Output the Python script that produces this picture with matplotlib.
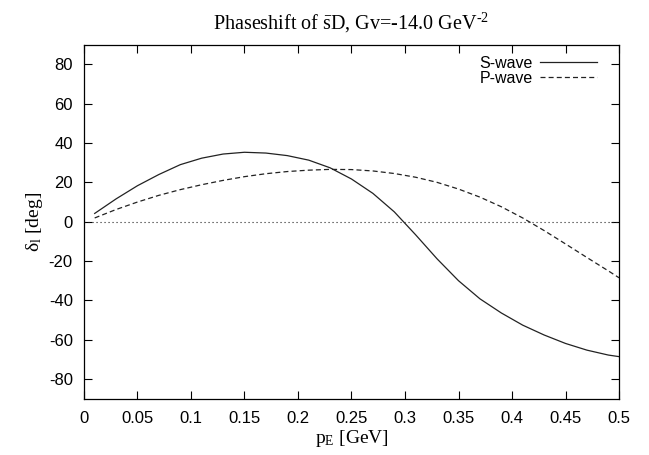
import matplotlib
matplotlib.use('Agg')
import matplotlib.pyplot as plt

p_e = [0.01, 0.03, 0.05, 0.07, 0.09, 0.11, 0.13, 0.15, 0.17, 0.19, 0.21, 0.23, 0.25,
       0.27, 0.29, 0.31, 0.33, 0.35, 0.37, 0.39, 0.41, 0.43, 0.45, 0.47, 0.49, 0.50]
s_wave = [4.2, 11.6, 18.3, 24.0, 29.0, 32.3, 34.4, 35.3, 34.9, 33.6, 31.3, 27.4, 21.7,
          14.4, 5.0, -6.7, -18.9, -30.0, -39.2, -46.4, -52.6, -57.6, -61.9, -65.3, -67.8, -68.6]
p_wave = [1.9, 6.2, 10.0, 13.4, 16.3, 18.8, 21.0, 22.9, 24.4, 25.5, 26.2, 26.6, 26.5,
          25.8, 24.5, 22.6, 20.0, 16.6, 12.5, 7.6, 1.9, -4.5, -11.3, -18.2, -25.0, -28.5]

x_ticks = [0, 0.05, 0.1, 0.15, 0.2, 0.25, 0.3, 0.35, 0.4, 0.45, 0.5]
x_labels = ['0', '0.05', '0.1', '0.15', '0.2', '0.25', '0.3', '0.35', '0.4', '0.45', '0.5']
y_ticks = [-80, -60, -40, -20, 0, 20, 40, 60, 80]

plt.rcParams['font.family'] = ['Liberation Sans', 'DejaVu Sans']
plt.rcParams['axes.unicode_minus'] = False
plt.rcParams['mathtext.fontset'] = 'custom'
plt.rcParams['mathtext.rm'] = 'Liberation Serif'
plt.rcParams['mathtext.it'] = 'Liberation Serif:italic'

serif = ['Liberation Serif', 'DejaVu Serif']

fig = plt.figure(figsize=(6.49, 4.55), dpi=100)
ax = fig.add_axes([0.1294, 0.1237, 0.8244, 0.7781])

ax.axhline(0, color='#222222', lw=0.8, dashes=(1, 2.6))
ax.plot(p_e, s_wave, color='#222222', lw=0.9, label='S-wave')
ax.plot(p_e, p_wave, color='#222222', lw=0.9, dashes=(4, 2.5), label='P-wave')

ax.set_xlim(0, 0.5)
ax.set_ylim(-90, 90)
ax.set_xticks(x_ticks)
ax.set_xticklabels(x_labels)
ax.set_yticks(y_ticks)
ax.tick_params(direction='in', top=True, right=True, length=5.8, width=0.8,
               labelsize=12)
ax.tick_params(axis='x', pad=9)
ax.tick_params(axis='y', pad=8)
for s in ax.spines.values():
    s.set_linewidth(0.9)

ax.set_title(r'Phaseshift of $\bar{\mathrm{s}}$D, Gv=-14.0 GeV$^{\text{-2}}$',
             fontsize=14.5, family=serif, pad=11)
ax.set_xlabel(r'p$_\mathrm{E}$ [GeV]', fontsize=14, family=serif, labelpad=1)
ax.set_ylabel(r'δ$_\mathrm{l}$ [deg]', fontsize=14, family=serif, labelpad=3)

ax.legend(loc='upper right', bbox_to_anchor=(1 - 22 / 535, 1 - 11 / 354),
          frameon=False, markerfirst=False, borderpad=0, borderaxespad=0,
          handlelength=3.6, handletextpad=0.4, labelspacing=0.0, fontsize=11.5)

plt.savefig('out.png', dpi=100)
